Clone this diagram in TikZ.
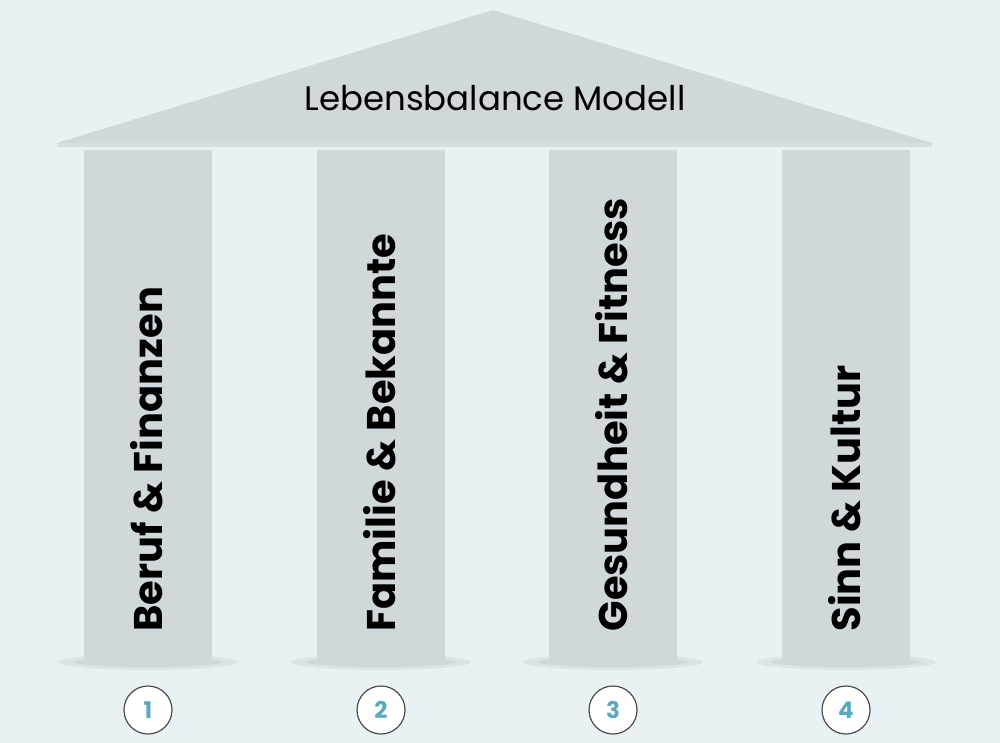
\documentclass[tikz,border=0pt]{standalone}
\usepackage{fontspec}
\setmainfont{Poppins}
\definecolor{bg}{HTML}{E9F1F5}
\definecolor{stone}{HTML}{D0D8DC}
\definecolor{teal}{HTML}{5AA9BE}
\tikzset{
  pillar/.style={fill=stone, draw=none, minimum width=128pt, minimum height=512pt, inner sep=0pt},
  plabel/.style={rotate=90, anchor=base west, font=\fontsize{40}{42}\selectfont\bfseries},
  num/.style={circle, draw=black!70, line width=1.2pt, fill=white, minimum size=48pt, inner sep=0pt, text=teal, font=\fontsize{23}{25}\selectfont\bfseries}
}
\begin{document}
\begin{tikzpicture}[x=1pt,y=-1pt]
\fill[bg] (0,0) rectangle (1000,743);
\useasboundingbox (0,0) rectangle (1000,743);
\foreach \c in {148,381,613,846}{
  \fill[black,opacity=0.05] (\c,662) ellipse (90 and 8);
  \fill[black,opacity=0.05] (\c,662) ellipse (75 and 5);
}
\node[pillar, anchor=north west] (p1) at (84,150) {};
\node[pillar, anchor=north west] (p2) at (317,150) {};
\node[pillar, anchor=north west] (p3) at (549,150) {};
\node[pillar, anchor=north west] (p4) at (782,150) {};
\fill[black,opacity=0.08] (57,143) rectangle (932,147);
\path[fill=stone] (493,10) -- (932,143) -- (57,143) -- cycle;
\node[font=\fontsize{34}{36}\selectfont] (roof) at (495,98) {Lebensbalance Modell};
\node[plabel] (t1) at (162,635) {Beruf \& Finanzen};
\node[plabel] (t2) at (395,635) {Familie \& Bekannte};
\node[plabel] (t3) at (627,635) {Gesundheit \& Fitness};
\node[plabel] (t4) at (860,635) {Sinn \& Kultur};
\node[num] (n1) at (148,710) {1};
\node[num] (n2) at (381,710) {2};
\node[num] (n3) at (613,710) {3};
\node[num] (n4) at (846,710) {4};
\end{tikzpicture}
\end{document}
